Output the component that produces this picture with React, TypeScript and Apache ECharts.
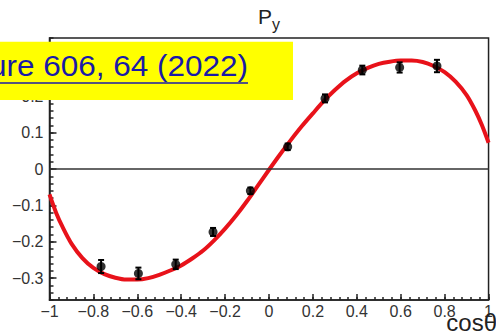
import React, { useEffect, useRef } from "react";
import * as echarts from "echarts";

// measured points (cosθ bins) with statistical errors
const binX = [-0.765, -0.595, -0.425, -0.255, -0.085, 0.085, 0.255, 0.425, 0.595, 0.765];
const pyVal = [-0.268, -0.287, -0.262, -0.173, -0.060, 0.061, 0.194, 0.272, 0.279, 0.283];
const pyErr = [0.018, 0.016, 0.013, 0.011, 0.009, 0.009, 0.011, 0.012, 0.014, 0.017];

// fitted curve
const fitX = [-1, -0.97, -0.94, -0.9, -0.85, -0.8, -0.75, -0.7, -0.65, -0.6, -0.55, -0.5, -0.45, -0.4, -0.35, -0.3, -0.25, -0.2, -0.15, -0.1, -0.05, 0, 0.05, 0.1, 0.15, 0.2, 0.25, 0.3, 0.35, 0.4, 0.45, 0.5, 0.55, 0.6, 0.65, 0.7, 0.75, 0.8, 0.85, 0.9, 0.94, 0.97, 1];
const fitY = [-0.070, -0.120, -0.160, -0.205, -0.245, -0.272, -0.289, -0.299, -0.304, -0.304, -0.300, -0.291, -0.279, -0.265, -0.246, -0.224, -0.196, -0.164, -0.128, -0.088, -0.045, -0.002, 0.040, 0.080, 0.118, 0.153, 0.187, 0.217, 0.243, 0.263, 0.278, 0.289, 0.295, 0.298, 0.298, 0.294, 0.283, 0.266, 0.240, 0.203, 0.160, 0.120, 0.072];

// axis ticks
const xMajor = [-1, -0.8, -0.6, -0.4, -0.2, 0, 0.2, 0.4, 0.6, 0.8, 1];
const yMajor = [-0.3, -0.2, -0.1, 0, 0.1, 0.2, 0.3];
const yLabels = [-0.3, -0.2, -0.1, 0, 0.1, 0.2]; // 0.3 is hidden behind the yellow banner
const xMinor = Array.from({ length: 51 }, (_, i) => +(-1 + i * 0.04).toFixed(2));
const yMinor = Array.from({ length: 37 }, (_, i) => +(-0.36 + i * 0.02).toFixed(2));

const FONT = "'Liberation Sans', Arial, Helvetica, sans-serif";

function fmt(v: number) {
  const s = String(+v.toFixed(2));
  return s.replace("-", "\u2212");
}

export default function App() {
  const ref = useRef<HTMLDivElement>(null);
  useEffect(() => {
    if (!ref.current) return;
    const chart = echarts.init(ref.current, undefined, { renderer: "svg" });
    const grid = { left: 49.5, right: 2, top: 38, bottom: 36, show: true, borderColor: "#222", borderWidth: 1.5, backgroundColor: "transparent" };
    const tickStyle = { color: "#222", width: 1.5 };
    chart.setOption({
      animation: false,
      backgroundColor: "#fff",
      grid,
      xAxis: [
        {
          type: "value", min: -1, max: 1, position: "bottom",
          axisLine: { show: true, onZero: false, lineStyle: tickStyle },
          axisTick: { show: true, inside: true, length: 6, customValues: xMajor, lineStyle: tickStyle },
          axisLabel: { customValues: xMajor, formatter: (v: number) => fmt(v), color: "#333", fontSize: 16, fontFamily: FONT, margin: 3 },
          splitLine: { show: false },
        },
        {
          type: "value", min: -1, max: 1, position: "bottom",
          axisLine: { show: false, onZero: false },
          axisTick: { show: true, inside: true, length: 3, customValues: xMinor, lineStyle: tickStyle },
          axisLabel: { show: false },
          splitLine: { show: false },
        },
      ],
      yAxis: [
        {
          type: "value", min: -0.36, max: 0.36, position: "left",
          axisLine: { show: true, onZero: false, lineStyle: tickStyle },
          axisTick: { show: true, inside: true, length: 7, customValues: yMajor, lineStyle: tickStyle },
          axisLabel: { customValues: yLabels, formatter: (v: number) => fmt(v), color: "#333", fontSize: 16, fontFamily: FONT, margin: 6 },
          splitLine: { show: false },
        },
        {
          type: "value", min: -0.36, max: 0.36, position: "left",
          axisLine: { show: false, onZero: false },
          axisTick: { show: true, inside: true, length: 4, customValues: yMinor, lineStyle: tickStyle },
          axisLabel: { show: false },
          splitLine: { show: false },
        },
      ],
      series: [
        {
          type: "line",
          data: fitX.map((x, i) => [x, fitY[i]]),
          smooth: 0.3,
          showSymbol: false,
          lineStyle: { color: "#e8121a", width: 4 },
          z: 3,
          markLine: {
            silent: true,
            symbol: "none",
            label: { show: false },
            lineStyle: { color: "#333", width: 1.5, type: "solid" },
            data: [{ yAxis: 0 }],
          },
        },
        {
          type: "custom",
          data: binX.map((x, i) => [x, pyVal[i], pyErr[i]]),
          z: 5,
          renderItem: (params: any, api: any) => {
            const x = api.value(0), y = api.value(1), e = api.value(2);
            const t = api.coord([x, y + e]);
            const b = api.coord([x, y - e]);
            const st = { stroke: "#000", lineWidth: 2 };
            return {
              type: "group",
              children: [
                { type: "line", shape: { x1: t[0], y1: t[1], x2: b[0], y2: b[1] }, style: st },
                { type: "line", shape: { x1: t[0] - 3, y1: t[1], x2: t[0] + 3, y2: t[1] }, style: st },
                { type: "line", shape: { x1: b[0] - 3, y1: b[1], x2: b[0] + 3, y2: b[1] }, style: st },
              ],
            };
          },
        },
        {
          type: "scatter",
          data: binX.map((x, i) => [x, pyVal[i]]),
          symbol: "circle",
          symbolSize: 9,
          itemStyle: { color: "#000" },
          z: 6,
        },
      ],
      graphic: [
        { type: "text", x: 258, y: 6, z: 50, style: { text: "P", fontSize: 21, fontFamily: FONT, fill: "#222" } },
        { type: "text", x: 272, y: 16, z: 50, style: { text: "y", fontSize: 16, fontFamily: FONT, fill: "#222" } },
        { type: "text", x: 497, y: 310, z: 50, style: { text: "cosθ", fontSize: 24, fontFamily: FONT, fill: "#222", align: "right" } },
        { type: "rect", shape: { x: 0, y: 41.7, width: 293, height: 58.3 }, z: 100, style: { fill: "#ffff00" } },
        { type: "text", x: 248, y: 66, scaleX: 1.05, z: 101, style: { text: "Nature 606, 64 (2022)", fontSize: 30, fontFamily: FONT, fill: "#1a1aa8", align: "right", verticalAlign: "middle" } },
        { type: "line", shape: { x1: 0, y1: 83, x2: 248, y2: 83 }, z: 101, style: { stroke: "#1a1aa8", lineWidth: 1.5 } },
      ],
    });
    return () => chart.dispose();
  }, []);
  return <div ref={ref} style={{ position: "absolute", left: 0, top: 0, width: 496, height: 336 }} />;
}
